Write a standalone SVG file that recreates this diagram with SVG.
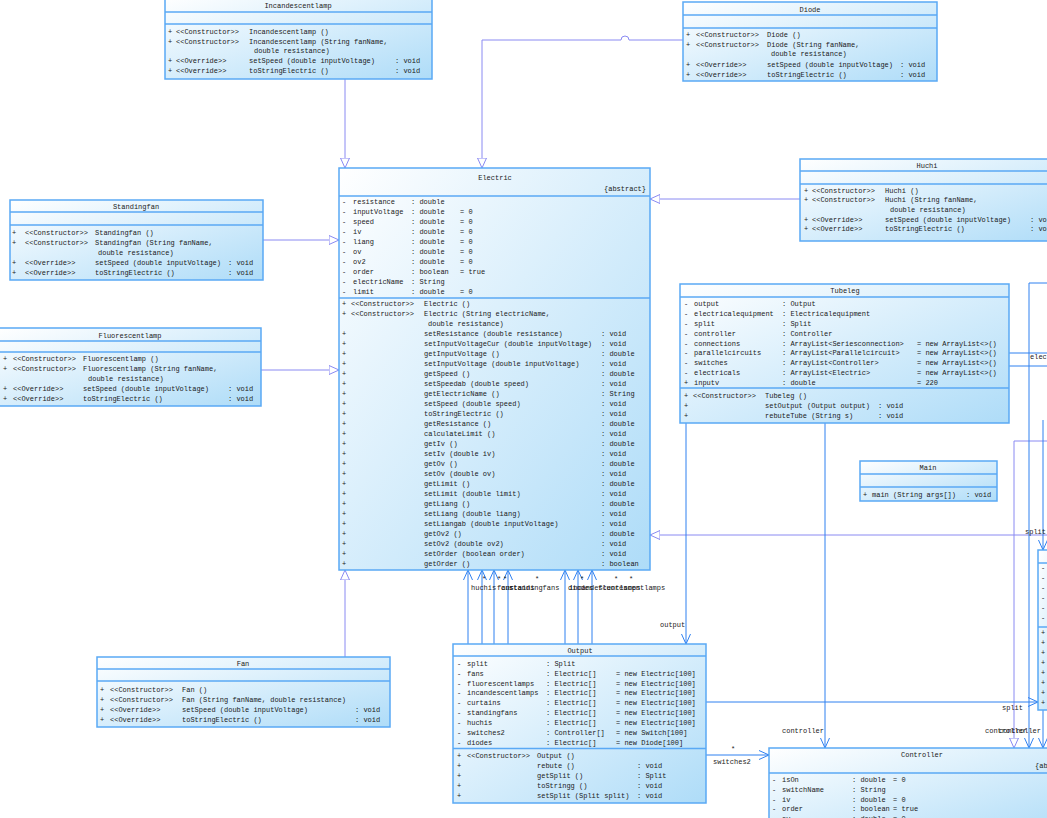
<svg xmlns="http://www.w3.org/2000/svg" width="1047" height="818" viewBox="0 0 1047 818">
<defs>
<linearGradient id="g" x1="0" y1="0" x2="1" y2="1"><stop offset="0" stop-color="#ffffff"/><stop offset="1" stop-color="#aedcf8"/></linearGradient>
<marker id="tri" viewBox="0 0 10 10" refX="10" refY="5" markerWidth="10" markerHeight="10" markerUnits="userSpaceOnUse" orient="auto"><path d="M0,0.5 L10,5 L0,9.5 z" fill="#fff" stroke="#8a8af2" stroke-width="1"/></marker>
<marker id="arr" viewBox="0 0 10 10" refX="10" refY="5" markerWidth="10" markerHeight="10" markerUnits="userSpaceOnUse" orient="auto"><path d="M0,0.5 L10,5 L0,9.5" fill="none" stroke="#2f80f0" stroke-width="1"/></marker>
</defs>
<style>
.box{fill:url(#g);stroke:#5aa9f5;stroke-width:1.5}
.sep{stroke:#5aa9f5;stroke-width:1.5}
.t{font-family:"Liberation Mono",monospace;font-size:7px;fill:#1a1a1a}
.c{text-anchor:middle}
.r{text-anchor:end}
.inh{stroke:#8a8af2;fill:none;stroke-width:1;marker-end:url(#tri)}
.inl{stroke:#8a8af2;fill:none;stroke-width:1}
.asc{stroke:#2f80f0;fill:none;stroke-width:1;marker-end:url(#arr)}
.asl{stroke:#2f80f0;fill:none;stroke-width:1}
</style>
<rect width="1047" height="818" fill="#fff"/>

<g id="connectors">
<path class="inh" d="M345,79 V168"/>
<path class="inh" d="M683,40 H629 A4,4 0 0 0 621,40 H482 V168"/>
<path class="inh" d="M800,199 H650"/>
<path class="inh" d="M263,240 H339"/>
<path class="inh" d="M261,370 H339"/>
<path class="inh" d="M345,657 V570"/>
<path class="inh" d="M1047,535 H650"/>
<path class="inh" d="M1047,441 H1014 V748"/>
<path class="asc" d="M468,644 V570"/>
<path class="asc" d="M482,644 V570"/>
<path class="asc" d="M494,644 V570"/>
<path class="asc" d="M508,644 V570"/>
<path class="asc" d="M565,644 V570"/>
<path class="asc" d="M578,644 V570"/>
<path class="asc" d="M592,644 V570"/>
<path class="asc" d="M686,423 V644"/>
<path class="asc" d="M825,423 V748"/>
<path class="asc" d="M706,755 H769"/>
<path class="asc" d="M706,702 H1038"/>
<path class="asl" d="M1009,353 H1047"/>
<path class="asl" d="M1009,366 H1047"/>
<path class="asl" d="M1047,283 H1029"/>
<path class="asc" d="M1029,283 V748"/>
<path class="asc" d="M1043,420 V550"/>
<path class="asc" d="M1043,710 V748"/>
<text class="t" x="482" y="581">*</text>
<text class="t" x="497" y="581">*</text>
<text class="t" x="503" y="581">*</text>
<text class="t" x="535" y="581">*</text>
<text class="t" x="580" y="581">*</text>
<text class="t" x="614" y="581">*</text>
<text class="t" x="629" y="581">*</text>
<text class="t" x="471" y="590">huchis</text>
<text class="t" x="497" y="590">fans</text>
<text class="t" x="501" y="590">curtains</text>
<text class="t" x="509" y="590">standingfans</text>
<text class="t" x="568" y="590">diodes</text>
<text class="t" x="569" y="590">incandescentlamps</text>
<text class="t" x="598" y="590">fluorescentlamps</text>
<text class="t" x="660" y="627">output</text>
<text class="t" x="782" y="733">controller</text>
<text class="t" x="731" y="751">*</text>
<text class="t" x="713" y="764">switches2</text>
<text class="t" x="1002" y="710">split</text>
<text class="t" x="1025" y="534">split</text>
<text class="t" x="1030" y="359">electricalequipment</text>
<text class="t" x="985" y="733">controller</text>
<text class="t" x="999" y="733">controller</text>
</g>

<g id="Incandescentlamp">
<rect class="box" x="165" y="-3" width="267" height="82"/>
<line class="sep" x1="165" y1="12" x2="432" y2="12"/>
<line class="sep" x1="165" y1="24" x2="432" y2="24"/>
<text class="t c" x="298" y="7.5">Incandescentlamp</text>
<text class="t" y="34"><tspan x="168">+</tspan><tspan x="176">&lt;&lt;Constructor&gt;&gt;</tspan><tspan x="249">Incandescentlamp ()</tspan></text>
<text class="t" y="43.5"><tspan x="168">+</tspan><tspan x="176">&lt;&lt;Constructor&gt;&gt;</tspan><tspan x="249">Incandescentlamp (String fanName,</tspan></text>
<text class="t" x="254" y="52.5">double resistance)</text>
<text class="t" y="63"><tspan x="168">+</tspan><tspan x="176">&lt;&lt;Override&gt;&gt;</tspan><tspan x="249">setSpeed (double inputVoltage)</tspan><tspan x="395">: void</tspan></text>
<text class="t" y="73"><tspan x="168">+</tspan><tspan x="176">&lt;&lt;Override&gt;&gt;</tspan><tspan x="249">toStringElectric ()</tspan><tspan x="395">: void</tspan></text>
</g>

<g id="Diode">
<rect class="box" x="683" y="2" width="254" height="79"/>
<line class="sep" x1="683" y1="15" x2="937" y2="15"/>
<line class="sep" x1="683" y1="28" x2="937" y2="28"/>
<text class="t c" x="810" y="11.5">Diode</text>
<text class="t" y="37"><tspan x="686">+</tspan><tspan x="696">&lt;&lt;Constructor&gt;&gt;</tspan><tspan x="767">Diode ()</tspan></text>
<text class="t" y="46.5"><tspan x="686">+</tspan><tspan x="696">&lt;&lt;Constructor&gt;&gt;</tspan><tspan x="767">Diode (String fanName,</tspan></text>
<text class="t" x="771" y="55.5">double resistance)</text>
<text class="t" y="66.5"><tspan x="686">+</tspan><tspan x="696">&lt;&lt;Override&gt;&gt;</tspan><tspan x="767">setSpeed (double inputVoltage)</tspan><tspan x="900">: void</tspan></text>
<text class="t" y="76.5"><tspan x="686">+</tspan><tspan x="696">&lt;&lt;Override&gt;&gt;</tspan><tspan x="767">toStringElectric ()</tspan><tspan x="900">: void</tspan></text>
</g>

<g id="Electric">
<rect class="box" x="339" y="168" width="311" height="402"/>
<line class="sep" x1="339" y1="196" x2="650" y2="196"/>
<line class="sep" x1="339" y1="298" x2="650" y2="298"/>
<text class="t c" x="495" y="180">Electric</text>
<text class="t r" x="646" y="191">{abstract}</text>
<text class="t" y="204"><tspan x="342">-</tspan><tspan x="353">resistance</tspan><tspan x="411">: double</tspan></text>
<text class="t" y="214"><tspan x="342">-</tspan><tspan x="353">inputVoltage</tspan><tspan x="411">: double</tspan><tspan x="460">= 0</tspan></text>
<text class="t" y="224"><tspan x="342">-</tspan><tspan x="353">speed</tspan><tspan x="411">: double</tspan><tspan x="460">= 0</tspan></text>
<text class="t" y="234"><tspan x="342">-</tspan><tspan x="353">iv</tspan><tspan x="411">: double</tspan><tspan x="460">= 0</tspan></text>
<text class="t" y="244"><tspan x="342">-</tspan><tspan x="353">liang</tspan><tspan x="411">: double</tspan><tspan x="460">= 0</tspan></text>
<text class="t" y="254"><tspan x="342">-</tspan><tspan x="353">ov</tspan><tspan x="411">: double</tspan><tspan x="460">= 0</tspan></text>
<text class="t" y="264"><tspan x="342">-</tspan><tspan x="353">ov2</tspan><tspan x="411">: double</tspan><tspan x="460">= 0</tspan></text>
<text class="t" y="274"><tspan x="342">-</tspan><tspan x="353">order</tspan><tspan x="411">: boolean</tspan><tspan x="460">= true</tspan></text>
<text class="t" y="284"><tspan x="342">-</tspan><tspan x="353">electricName</tspan><tspan x="411">: String</tspan></text>
<text class="t" y="294"><tspan x="342">-</tspan><tspan x="353">limit</tspan><tspan x="411">: double</tspan><tspan x="460">= 0</tspan></text>
<text class="t" y="305.5"><tspan x="342">+</tspan><tspan x="351">&lt;&lt;Constructor&gt;&gt;</tspan><tspan x="424">Electric ()</tspan></text>
<text class="t" y="315.5"><tspan x="342">+</tspan><tspan x="351">&lt;&lt;Constructor&gt;&gt;</tspan><tspan x="424">Electric (String electricName,</tspan></text>
<text class="t" x="428" y="325.5">double resistance)</text>
<text class="t" y="335.5"><tspan x="342">+</tspan><tspan x="424">setResistance (double resistance)</tspan><tspan x="601">: void</tspan></text>
<text class="t" y="345.5"><tspan x="342">+</tspan><tspan x="424">setInputVoltageCur (double inputVoltage)</tspan><tspan x="601">: void</tspan></text>
<text class="t" y="355.5"><tspan x="342">+</tspan><tspan x="424">getInputVoltage ()</tspan><tspan x="601">: double</tspan></text>
<text class="t" y="365.5"><tspan x="342">+</tspan><tspan x="424">setInputVoltage (double inputVoltage)</tspan><tspan x="601">: void</tspan></text>
<text class="t" y="375.5"><tspan x="342">+</tspan><tspan x="424">getSpeed ()</tspan><tspan x="601">: double</tspan></text>
<text class="t" y="385.5"><tspan x="342">+</tspan><tspan x="424">setSpeedab (double speed)</tspan><tspan x="601">: void</tspan></text>
<text class="t" y="395.5"><tspan x="342">+</tspan><tspan x="424">getElectricName ()</tspan><tspan x="601">: String</tspan></text>
<text class="t" y="405.5"><tspan x="342">+</tspan><tspan x="424">setSpeed (double speed)</tspan><tspan x="601">: void</tspan></text>
<text class="t" y="415.5"><tspan x="342">+</tspan><tspan x="424">toStringElectric ()</tspan><tspan x="601">: void</tspan></text>
<text class="t" y="425.5"><tspan x="342">+</tspan><tspan x="424">getResistance ()</tspan><tspan x="601">: double</tspan></text>
<text class="t" y="435.5"><tspan x="342">+</tspan><tspan x="424">calculateLimit ()</tspan><tspan x="601">: void</tspan></text>
<text class="t" y="445.5"><tspan x="342">+</tspan><tspan x="424">getIv ()</tspan><tspan x="601">: double</tspan></text>
<text class="t" y="455.5"><tspan x="342">+</tspan><tspan x="424">setIv (double iv)</tspan><tspan x="601">: void</tspan></text>
<text class="t" y="465.5"><tspan x="342">+</tspan><tspan x="424">getOv ()</tspan><tspan x="601">: double</tspan></text>
<text class="t" y="475.5"><tspan x="342">+</tspan><tspan x="424">setOv (double ov)</tspan><tspan x="601">: void</tspan></text>
<text class="t" y="485.5"><tspan x="342">+</tspan><tspan x="424">getLimit ()</tspan><tspan x="601">: double</tspan></text>
<text class="t" y="495.5"><tspan x="342">+</tspan><tspan x="424">setLimit (double limit)</tspan><tspan x="601">: void</tspan></text>
<text class="t" y="505.5"><tspan x="342">+</tspan><tspan x="424">getLiang ()</tspan><tspan x="601">: double</tspan></text>
<text class="t" y="515.5"><tspan x="342">+</tspan><tspan x="424">setLiang (double liang)</tspan><tspan x="601">: void</tspan></text>
<text class="t" y="525.5"><tspan x="342">+</tspan><tspan x="424">setLiangab (double inputVoltage)</tspan><tspan x="601">: void</tspan></text>
<text class="t" y="535.5"><tspan x="342">+</tspan><tspan x="424">getOv2 ()</tspan><tspan x="601">: double</tspan></text>
<text class="t" y="545.5"><tspan x="342">+</tspan><tspan x="424">setOv2 (double ov2)</tspan><tspan x="601">: void</tspan></text>
<text class="t" y="555.5"><tspan x="342">+</tspan><tspan x="424">setOrder (boolean order)</tspan><tspan x="601">: void</tspan></text>
<text class="t" y="565.5"><tspan x="342">+</tspan><tspan x="424">getOrder ()</tspan><tspan x="601">: boolean</tspan></text>
</g>

<g id="Standingfan">
<rect class="box" x="10" y="200" width="253" height="80"/>
<line class="sep" x1="10" y1="212" x2="263" y2="212"/>
<line class="sep" x1="10" y1="225" x2="263" y2="225"/>
<text class="t c" x="136" y="209">Standingfan</text>
<text class="t" y="234.5"><tspan x="12">+</tspan><tspan x="25">&lt;&lt;Constructor&gt;&gt;</tspan><tspan x="95">Standingfan ()</tspan></text>
<text class="t" y="244.5"><tspan x="12">+</tspan><tspan x="25">&lt;&lt;Constructor&gt;&gt;</tspan><tspan x="95">Standingfan (String fanName,</tspan></text>
<text class="t" x="98" y="254.5">double resistance)</text>
<text class="t" y="265"><tspan x="12">+</tspan><tspan x="25">&lt;&lt;Override&gt;&gt;</tspan><tspan x="95">setSpeed (double inputVoltage)</tspan><tspan x="228">: void</tspan></text>
<text class="t" y="274.5"><tspan x="12">+</tspan><tspan x="25">&lt;&lt;Override&gt;&gt;</tspan><tspan x="95">toStringElectric ()</tspan><tspan x="228">: void</tspan></text>
</g>

<g id="Fluorescentlamp">
<rect class="box" x="-1" y="328" width="262" height="78"/>
<line class="sep" x1="-1" y1="341" x2="261" y2="341"/>
<line class="sep" x1="-1" y1="352" x2="261" y2="352"/>
<text class="t c" x="130" y="337.5">Fluorescentlamp</text>
<text class="t" y="361"><tspan x="3">+</tspan><tspan x="13">&lt;&lt;Constructor&gt;&gt;</tspan><tspan x="83">Fluorescentlamp ()</tspan></text>
<text class="t" y="371"><tspan x="3">+</tspan><tspan x="13">&lt;&lt;Constructor&gt;&gt;</tspan><tspan x="83">Fluorescentlamp (String fanName,</tspan></text>
<text class="t" x="88" y="381">double resistance)</text>
<text class="t" y="391"><tspan x="3">+</tspan><tspan x="13">&lt;&lt;Override&gt;&gt;</tspan><tspan x="83">setSpeed (double inputVoltage)</tspan><tspan x="228">: void</tspan></text>
<text class="t" y="401"><tspan x="3">+</tspan><tspan x="13">&lt;&lt;Override&gt;&gt;</tspan><tspan x="83">toStringElectric ()</tspan><tspan x="228">: void</tspan></text>
</g>

<g id="Huchi">
<rect class="box" x="800" y="159" width="270" height="82"/>
<line class="sep" x1="800" y1="171" x2="1070" y2="171"/>
<line class="sep" x1="800" y1="184" x2="1070" y2="184"/>
<text class="t c" x="927" y="168">Huchi</text>
<text class="t" y="192.5"><tspan x="804">+</tspan><tspan x="812">&lt;&lt;Constructor&gt;&gt;</tspan><tspan x="885">Huchi ()</tspan></text>
<text class="t" y="202"><tspan x="804">+</tspan><tspan x="812">&lt;&lt;Constructor&gt;&gt;</tspan><tspan x="885">Huchi (String fanName,</tspan></text>
<text class="t" x="890" y="211.5">double resistance)</text>
<text class="t" y="221.5"><tspan x="804">+</tspan><tspan x="812">&lt;&lt;Override&gt;&gt;</tspan><tspan x="885">setSpeed (double inputVoltage)</tspan><tspan x="1030">: void</tspan></text>
<text class="t" y="230.5"><tspan x="804">+</tspan><tspan x="812">&lt;&lt;Override&gt;&gt;</tspan><tspan x="885">toStringElectric ()</tspan><tspan x="1030">: void</tspan></text>
</g>

<g id="Tubeleg">
<rect class="box" x="680" y="284" width="329" height="139"/>
<line class="sep" x1="680" y1="297" x2="1009" y2="297"/>
<line class="sep" x1="680" y1="388" x2="1009" y2="388"/>
<text class="t c" x="845" y="293">Tubeleg</text>
<text class="t" y="305.5"><tspan x="684">-</tspan><tspan x="694">output</tspan><tspan x="782">: Output</tspan></text>
<text class="t" y="315.5"><tspan x="684">-</tspan><tspan x="694">electricalequipment</tspan><tspan x="782">: Electricalequipment</tspan></text>
<text class="t" y="325.5"><tspan x="684">-</tspan><tspan x="694">split</tspan><tspan x="782">: Split</tspan></text>
<text class="t" y="335.5"><tspan x="684">-</tspan><tspan x="694">controller</tspan><tspan x="782">: Controller</tspan></text>
<text class="t" y="345.5"><tspan x="684">-</tspan><tspan x="694">connections</tspan><tspan x="782">: ArrayList&lt;Seriesconnection&gt;</tspan><tspan x="917">= new ArrayList&lt;&gt;()</tspan></text>
<text class="t" y="355"><tspan x="684">-</tspan><tspan x="694">parallelcircuits</tspan><tspan x="782">: ArrayList&lt;Parallelcircuit&gt;</tspan><tspan x="917">= new ArrayList&lt;&gt;()</tspan></text>
<text class="t" y="365"><tspan x="684">-</tspan><tspan x="694">switches</tspan><tspan x="782">: ArrayList&lt;Controller&gt;</tspan><tspan x="917">= new ArrayList&lt;&gt;()</tspan></text>
<text class="t" y="375"><tspan x="684">-</tspan><tspan x="694">electricals</tspan><tspan x="782">: ArrayList&lt;Electric&gt;</tspan><tspan x="917">= new ArrayList&lt;&gt;()</tspan></text>
<text class="t" y="385"><tspan x="684">+</tspan><tspan x="694">inputv</tspan><tspan x="782">: double</tspan><tspan x="917">= 220</tspan></text>
<text class="t" y="397.5"><tspan x="684">+</tspan><tspan x="693">&lt;&lt;Constructor&gt;&gt;</tspan><tspan x="765">Tubeleg ()</tspan></text>
<text class="t" y="407.5"><tspan x="684">+</tspan><tspan x="765">setOutput (Output output)</tspan><tspan x="878">: void</tspan></text>
<text class="t" y="417.5"><tspan x="684">+</tspan><tspan x="765">rebuteTube (String s)</tspan><tspan x="878">: void</tspan></text>
</g>

<g id="Main">
<rect class="box" x="860" y="461" width="137" height="40"/>
<line class="sep" x1="860" y1="474" x2="997" y2="474"/>
<line class="sep" x1="860" y1="487" x2="997" y2="487"/>
<text class="t c" x="928" y="470">Main</text>
<text class="t" y="496.5"><tspan x="863">+</tspan><tspan x="872">main (String args[])</tspan><tspan x="966">: void</tspan></text>
</g>

<g id="Split">
<rect class="box" x="1038" y="550" width="40" height="160"/>
<line class="sep" x1="1038" y1="563" x2="1078" y2="563"/>
<line class="sep" x1="1038" y1="627" x2="1078" y2="627"/>
<text class="t" x="1041" y="569.5">-</text>
<text class="t" x="1041" y="579.5">-</text>
<text class="t" x="1041" y="589.5">-</text>
<text class="t" x="1041" y="599.5">-</text>
<text class="t" x="1041" y="609.5">-</text>
<text class="t" x="1041" y="619.5">-</text>
<text class="t" x="1041" y="634.5">+</text>
<text class="t" x="1041" y="644.5">+</text>
<text class="t" x="1041" y="654.5">+</text>
<text class="t" x="1041" y="664.5">+</text>
<text class="t" x="1041" y="674.5">+</text>
<text class="t" x="1041" y="684.5">+</text>
<text class="t" x="1041" y="694.5">+</text>
<text class="t" x="1041" y="704.5">+</text>
</g>

<g id="Output">
<rect class="box" x="453" y="644" width="253" height="159"/>
<line class="sep" x1="453" y1="656" x2="706" y2="656"/>
<line class="sep" x1="453" y1="748.5" x2="706" y2="748.5"/>
<text class="t c" x="580" y="653">Output</text>
<text class="t" y="665.5"><tspan x="457">-</tspan><tspan x="467">split</tspan><tspan x="546">: Split</tspan></text>
<text class="t" y="675.5"><tspan x="457">-</tspan><tspan x="467">fans</tspan><tspan x="546">: Electric[]</tspan><tspan x="616">= new Electric[100]</tspan></text>
<text class="t" y="685.5"><tspan x="457">-</tspan><tspan x="467">fluorescentlamps</tspan><tspan x="546">: Electric[]</tspan><tspan x="616">= new Electric[100]</tspan></text>
<text class="t" y="694.5"><tspan x="457">-</tspan><tspan x="467">incandescentlamps</tspan><tspan x="546">: Electric[]</tspan><tspan x="616">= new Electric[100]</tspan></text>
<text class="t" y="704.5"><tspan x="457">-</tspan><tspan x="467">curtains</tspan><tspan x="546">: Electric[]</tspan><tspan x="616">= new Electric[100]</tspan></text>
<text class="t" y="714.5"><tspan x="457">-</tspan><tspan x="467">standingfans</tspan><tspan x="546">: Electric[]</tspan><tspan x="616">= new Electric[100]</tspan></text>
<text class="t" y="724.5"><tspan x="457">-</tspan><tspan x="467">huchis</tspan><tspan x="546">: Electric[]</tspan><tspan x="616">= new Electric[100]</tspan></text>
<text class="t" y="734.5"><tspan x="457">-</tspan><tspan x="467">switches2</tspan><tspan x="546">: Controller[]</tspan><tspan x="616">= new Switch[100]</tspan></text>
<text class="t" y="744.5"><tspan x="457">-</tspan><tspan x="467">diodes</tspan><tspan x="546">: Electric[]</tspan><tspan x="616">= new Diode[100]</tspan></text>
<text class="t" y="757.5"><tspan x="457">+</tspan><tspan x="467">&lt;&lt;Constructor&gt;&gt;</tspan><tspan x="537">Output ()</tspan></text>
<text class="t" y="767.5"><tspan x="457">+</tspan><tspan x="537">rebute ()</tspan><tspan x="637">: void</tspan></text>
<text class="t" y="777.5"><tspan x="457">+</tspan><tspan x="537">getSplit ()</tspan><tspan x="637">: Split</tspan></text>
<text class="t" y="787.5"><tspan x="457">+</tspan><tspan x="537">toStringg ()</tspan><tspan x="637">: void</tspan></text>
<text class="t" y="797.5"><tspan x="457">+</tspan><tspan x="537">setSplit (Split split)</tspan><tspan x="637">: void</tspan></text>
</g>

<g id="Fan">
<rect class="box" x="97" y="657" width="293" height="70"/>
<line class="sep" x1="97" y1="669" x2="390" y2="669"/>
<line class="sep" x1="97" y1="681" x2="390" y2="681"/>
<text class="t c" x="243" y="666">Fan</text>
<text class="t" y="691.5"><tspan x="100">+</tspan><tspan x="110">&lt;&lt;Constructor&gt;&gt;</tspan><tspan x="182">Fan ()</tspan></text>
<text class="t" y="701.5"><tspan x="100">+</tspan><tspan x="110">&lt;&lt;Constructor&gt;&gt;</tspan><tspan x="182">Fan (String fanName, double resistance)</tspan></text>
<text class="t" y="711.5"><tspan x="100">+</tspan><tspan x="110">&lt;&lt;Override&gt;&gt;</tspan><tspan x="182">setSpeed (double inputVoltage)</tspan><tspan x="355">: void</tspan></text>
<text class="t" y="721.5"><tspan x="100">+</tspan><tspan x="110">&lt;&lt;Override&gt;&gt;</tspan><tspan x="182">toStringElectric ()</tspan><tspan x="355">: void</tspan></text>
</g>

<g id="Controller">
<rect class="box" x="769" y="748" width="300" height="90"/>
<line class="sep" x1="769" y1="773" x2="1069" y2="773"/>
<text class="t c" x="922" y="757">Controller</text>
<text class="t" x="1035" y="768">{abstract}</text>
<text class="t" y="781.5"><tspan x="772">-</tspan><tspan x="782">isOn</tspan><tspan x="852">: double</tspan><tspan x="893">= 0</tspan></text>
<text class="t" y="791.5"><tspan x="772">-</tspan><tspan x="782">switchName</tspan><tspan x="852">: String</tspan></text>
<text class="t" y="801.5"><tspan x="772">-</tspan><tspan x="782">iv</tspan><tspan x="852">: double</tspan><tspan x="893">= 0</tspan></text>
<text class="t" y="811"><tspan x="772">-</tspan><tspan x="782">order</tspan><tspan x="852">: boolean</tspan><tspan x="893">= true</tspan></text>
<text class="t" y="821"><tspan x="772">-</tspan><tspan x="782">ov</tspan><tspan x="852">: double</tspan><tspan x="893">= 0</tspan></text>
</g>
</svg>
